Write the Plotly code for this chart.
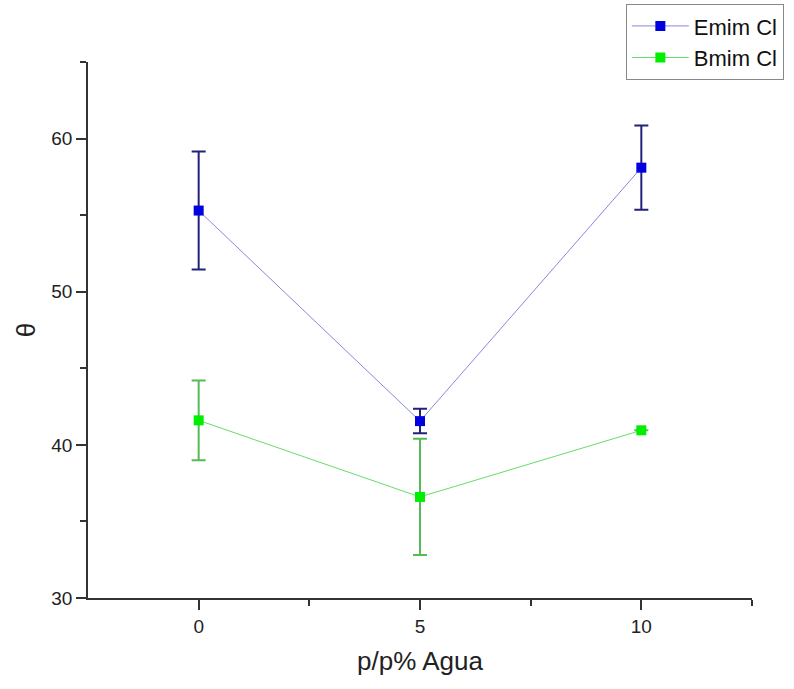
import plotly.graph_objects as go

x_vals = [0, 5, 10]
emim_y = [55.3, 41.55, 58.1]
emim_err = [3.85, 0.8, 2.75]
bmim_y = [41.6, 36.6, 40.95]
bmim_err = [2.6, 3.8, 0.0]

x_ticks = [0, 5, 10]
y_ticks = [30, 40, 50, 60]

FONT = "Liberation Sans, Arial, sans-serif"

fig = go.Figure()
fig.add_trace(go.Scatter(
    x=x_vals, y=emim_y, name="Emim Cl", mode="lines+markers",
    line=dict(color="#8888dd", width=1),
    marker=dict(symbol="square", size=10, color="#0000e0"),
    error_y=dict(type="data", array=emim_err, visible=True,
                 color="#22227a", thickness=2, width=7),
))
fig.add_trace(go.Scatter(
    x=x_vals, y=bmim_y, name="Bmim Cl", mode="lines+markers",
    line=dict(color="#66dd66", width=1),
    marker=dict(symbol="square", size=10, color="#00ee00"),
    error_y=dict(type="data", array=bmim_err, visible=True,
                 color="#55bb55", thickness=2, width=7),
))

fig.update_layout(
    width=794, height=689,
    margin=dict(l=88, r=42, t=62, b=91, autoexpand=False),
    paper_bgcolor="white", plot_bgcolor="white",
    font=dict(family=FONT, size=19, color="#222222"),
    showlegend=True,
    legend=dict(x=0.81, y=1.108, xanchor="left", yanchor="top",
                bordercolor="#888888", borderwidth=1, bgcolor="white",
                font=dict(family=FONT, size=22, color="#111111"),
                tracegroupgap=0, itemwidth=57),
    xaxis=dict(range=[-2.5, 12.5], tickvals=x_ticks, ticks="outside", ticklen=10,
               tickwidth=1.5, tickcolor="#333333", tickfont=dict(size=19),
               showline=True, linecolor="#333333", linewidth=1.5, showgrid=False,
               zeroline=False,
               minor=dict(tickvals=[2.5, 7.5, 12.5], ticks="outside", ticklen=6, tickcolor="#333333"),
               title=dict(text="p/p% Agua", font=dict(size=26), standoff=16)),
    yaxis=dict(range=[30, 65], tickvals=y_ticks, ticks="outside", ticklen=10,
               tickwidth=1.5, tickcolor="#333333", tickfont=dict(size=19),
               showline=True, linecolor="#333333", linewidth=1.5, showgrid=False,
               zeroline=False,
               minor=dict(tickvals=[35, 45, 55, 65], ticks="outside", ticklen=6, tickcolor="#333333"),
               title=dict(text="θ", font=dict(size=26), standoff=8)),
)
fig.write_html("out.html")
